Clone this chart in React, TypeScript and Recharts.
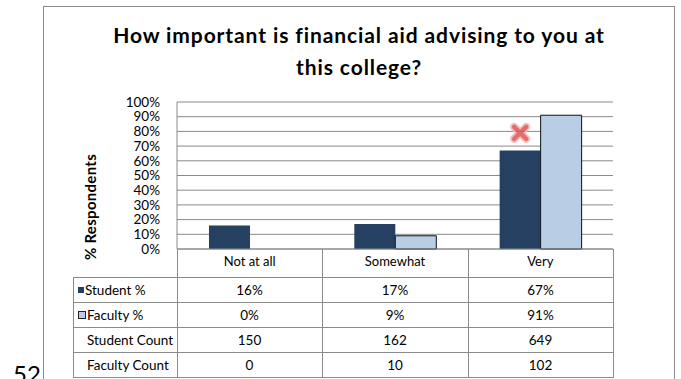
import React from "react";
import { ComposedChart, Bar, XAxis, YAxis, CartesianGrid } from "recharts";

// Survey answers (category order as shown)
const categories = ["Not at all", "Somewhat", "Very"];
const studentPct = [16, 17, 67];
const facultyPct = [0, 9, 91];
const studentCount = [150, 162, 649];
const facultyCount = [0, 10, 102];
// red "x" marker placed above the Student / Very bar
const markerPct = [null, null, 79];
const yTicks = [0, 10, 20, 30, 40, 50, 60, 70, 80, 90, 100];

const TITLE = "How important is financial aid advising to you at this college?";
const FONT = "Lato, 'Open Sans', sans-serif";
const STUDENT = "#254061";
const FACULTY = "#b9cde5";
const LINE = "#8a8a8a";

const data = categories.map((c, i) => ({
  name: c,
  student: studentPct[i],
  faculty: facultyPct[i],
  marker: markerPct[i],
}));

// table geometry (px, page coords)
const COLS = [73, 177, 322, 468, 613];
const ROWS = [249, 277, 302, 327, 352, 377];

// Student bar, plus the red cross when the row has a marker value
function StudentBar(props: any) {
  const { x, y, width, height, payload, value } = props;
  const base = y + height;
  const mk = payload?.marker;
  let cross = null;
  if (mk != null && value) {
    const cy = base - (height * mk) / value;
    const cx = x + width / 2;
    const s = 6;
    const d = `M${cx - s},${cy - s}L${cx + s},${cy + s}M${cx + s},${cy - s}L${cx - s},${cy + s}`;
    cross = (
      <g opacity={0.85}>
        <path d={d} stroke="#f2b6b6" strokeWidth={8} strokeLinecap="round" />
        <path d={d} stroke="#dd5555" strokeWidth={4.5} strokeLinecap="round" />
      </g>
    );
  }
  return (
    <g>
      <rect x={x} y={y} width={width} height={height} fill={STUDENT} />
      {cross}
    </g>
  );
}

const rows = [
  { label: "Student %", key: "s", values: studentPct.map((v) => `${v}%`), swatch: STUDENT },
  { label: "Faculty %", key: "f", values: facultyPct.map((v) => `${v}%`), swatch: FACULTY },
  { label: "Student Count", key: "sc", values: studentCount.map(String) },
  { label: "Faculty Count", key: "fc", values: facultyCount.map(String) },
];

function hLine(y: number, x1: number, x2: number, k: string) {
  return <div key={k} style={{ position: "absolute", left: x1, top: y, width: x2 - x1 + 1, height: 1, background: LINE }} />;
}
function vLine(x: number, y1: number, y2: number, k: string) {
  return <div key={k} style={{ position: "absolute", left: x, top: y1, width: 1, height: y2 - y1 + 1, background: LINE }} />;
}

export default function App() {
  const lines: React.ReactNode[] = [];
  for (let r = 1; r < ROWS.length; r++) lines.push(hLine(ROWS[r], COLS[0], COLS[COLS.length - 1], `h${r}`));
  lines.push(vLine(COLS[0], ROWS[1], ROWS[ROWS.length - 1], "v0"));
  for (let c = 1; c < COLS.length; c++) lines.push(vLine(COLS[c], ROWS[0], ROWS[ROWS.length - 1], `v${c}`));

  return (
    <div style={{ position: "absolute", left: 0, top: 0, width: 681, height: 379, overflow: "hidden", background: "#fff", fontFamily: FONT, color: "#000" }}>
      {/* outer chart frame */}
      <div style={{ position: "absolute", left: 43, top: 6, width: 632, height: 400, border: `1px solid ${LINE}`, boxSizing: "border-box" }} />

      <div style={{ position: "absolute", left: 13, top: 362, fontSize: 24, lineHeight: "24px" }}>52</div>

      <div style={{ position: "absolute", left: 104, top: 19, width: 510, textAlign: "center", fontWeight: 700, fontSize: 21, letterSpacing: 0.9, lineHeight: "32px" }}>
        {TITLE}
      </div>

      <div style={{ position: "absolute", left: 90, top: 207, transform: "translate(-50%, -50%) rotate(-90deg)", whiteSpace: "nowrap", fontWeight: 700, fontSize: 15, letterSpacing: 0.3 }}>
        % Respondents
      </div>

      <div style={{ position: "absolute", left: 0, top: 0 }}>
        <ComposedChart width={681} height={379} data={data} margin={{ top: 102, right: 68, bottom: 100, left: 117 }} barCategoryGap="22%" barGap={0}>
          <CartesianGrid horizontal vertical={false} stroke={LINE} strokeWidth={1} />
          <XAxis dataKey="name" axisLine={{ stroke: LINE }} tickLine={false} tickSize={0} tickMargin={8} height={30} tick={{ fill: "#000", fontSize: 13, fontFamily: FONT }} />
          <YAxis width={60} domain={[0, 100]} ticks={yTicks} interval={0} axisLine={{ stroke: LINE }} tickLine={false} tickSize={0} tickMargin={17} tick={{ fill: "#000", fontSize: 13.5, fontFamily: FONT }} tickFormatter={(v: number) => `${v}%`} />
          <Bar dataKey="student" fill={STUDENT} shape={<StudentBar />} isAnimationActive={false} />
          <Bar dataKey="faculty" fill={FACULTY} stroke="#111" strokeWidth={1} isAnimationActive={false} />
        </ComposedChart>
      </div>

      {lines}

      {rows.map((row, r) => {
        const top = ROWS[r + 1];
        const h = ROWS[r + 2] - top;
        return (
          <React.Fragment key={row.key}>
            <div style={{ position: "absolute", left: COLS[0] + 4, top, height: h, display: "flex", alignItems: "center", fontSize: 13.5, whiteSpace: "nowrap" }}>
              {row.swatch ? (
                <span style={{ display: "inline-block", width: 6, height: 6, background: row.swatch, border: row.swatch === FACULTY ? "1px solid #222" : "none", marginRight: 1, marginLeft: 1 }} />
              ) : (
                <span style={{ display: "inline-block", width: 10 }} />
              )}
              {row.label}
            </div>
            {row.values.map((v, c) => (
              <div key={c} style={{ position: "absolute", left: COLS[c + 1], top, width: COLS[c + 2] - COLS[c + 1], height: h, display: "flex", alignItems: "center", justifyContent: "center", fontSize: 13.5 }}>
                {v}
              </div>
            ))}
          </React.Fragment>
        );
      })}
    </div>
  );
}
